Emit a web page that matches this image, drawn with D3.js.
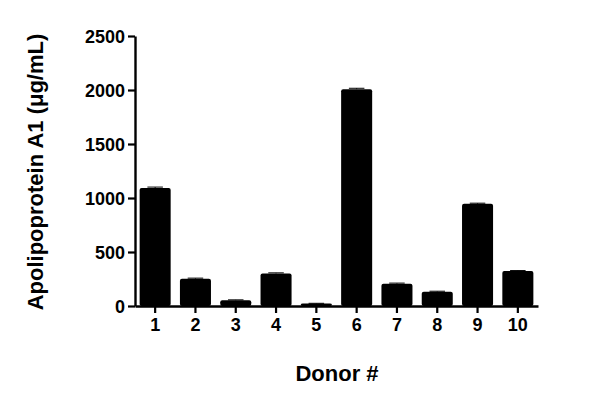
<!DOCTYPE html>
<html>
<head>
<meta charset="utf-8">
<script src="https://cdn.jsdelivr.net/npm/d3@7"></script>
<style>
  body { margin: 0; background: #fff; }
  svg text { font-family: Arial, "Liberation Sans", sans-serif; font-weight: bold; fill: #000; }
</style>
</head>
<body>
<svg id="chart" width="600" height="404"></svg>
<script>
var donors = ["1", "2", "3", "4", "5", "6", "7", "8", "9", "10"];
var apoA1 = [1093, 253, 53, 302, 22, 2008, 207, 133, 946, 323];
var apoA1Err = [8, 5, 4, 5, 3, 8, 5, 4, 6, 5];
var yTicks = [0, 500, 1000, 1500, 2000, 2500];

var svg = d3.select("#chart");

var margin = { top: 36, right: 62, bottom: 98, left: 135 };
var plotWidth = 600 - margin.left - margin.right;
var plotHeight = 404 - margin.top - margin.bottom;

var plot = svg.append("g")
  .attr("transform", translate(margin.left, margin.top));

var xScale = d3.scaleBand()
  .domain(donors)
  .range([0, plotWidth])
  .paddingInner(0.23)
  .paddingOuter(0.115);

var yScale = d3.scaleLinear()
  .domain([0, 2500])
  .range([plotHeight, 0]);

var data = donors.map(function(d, i) {
  return { key: d, value: apoA1[i], err: apoA1Err[i] };
});

// bars
plot.selectAll(".bar")
  .data(data)
  .enter()
  .append("rect")
  .attr("class", "bar")
  .attr("x", function(d) { return xScale(d.key); })
  .attr("width", xScale.bandwidth())
  .attr("y", function(d) { return yScale(d.value); })
  .attr("height", function(d) { return plotHeight - yScale(d.value); })
  .attr("rx", 2)
  .attr("fill", "#000");

// error bars (tiny caps just above each bar)
var errs = plot.selectAll(".err")
  .data(data)
  .enter()
  .append("g")
  .attr("class", "err")
  .attr("stroke", "#000")
  .attr("stroke-width", 1);

errs.append("line")
  .attr("x1", function(d) { return xScale(d.key) + xScale.bandwidth() / 2; })
  .attr("x2", function(d) { return xScale(d.key) + xScale.bandwidth() / 2; })
  .attr("y1", function(d) { return yScale(d.value); })
  .attr("y2", function(d) { return yScale(d.value + d.err); });

errs.append("line")
  .attr("x1", function(d) { return xScale(d.key) + xScale.bandwidth() * 0.25; })
  .attr("x2", function(d) { return xScale(d.key) + xScale.bandwidth() * 0.75; })
  .attr("y1", function(d) { return yScale(d.value + d.err); })
  .attr("y2", function(d) { return yScale(d.value + d.err); });

// axes
var xAxis = d3.axisBottom(xScale).tickSize(7).tickPadding(5).tickSizeOuter(0);
var yAxis = d3.axisLeft(yScale).tickValues(yTicks).tickFormat(d3.format("d"))
  .tickSize(7).tickPadding(3).tickSizeOuter(0);

var gx = plot.append("g")
  .attr("transform", translate(0, plotHeight))
  .call(xAxis);

var gy = plot.append("g")
  .call(yAxis);

[gx, gy].forEach(function(g) {
  g.selectAll(".domain").attr("stroke", "#000").attr("stroke-width", 2.4);
  g.selectAll(".tick line").attr("stroke", "#000").attr("stroke-width", 2.2);
  g.selectAll(".tick text")
    .attr("font-size", 18)
    .attr("font-family", "Arial, 'Liberation Sans', sans-serif")
    .attr("font-weight", "bold")
    .attr("fill", "#000");
});

gy.selectAll(".tick text").attr("dy", "0.36em");

// axis titles
svg.append("text")
  .attr("x", 337)
  .attr("y", 381)
  .attr("text-anchor", "middle")
  .attr("font-size", 22)
  .text("Donor #");

svg.append("text")
  .attr("transform", translate(43, 172) + " rotate(-90)")
  .attr("text-anchor", "middle")
  .attr("font-size", 22)
  .text("Apolipoprotein A1 (\u03bcg/mL)");

function translate(x, y) {
  return "translate(" + x + "," + y + ")";
}
</script>
</body>
</html>
